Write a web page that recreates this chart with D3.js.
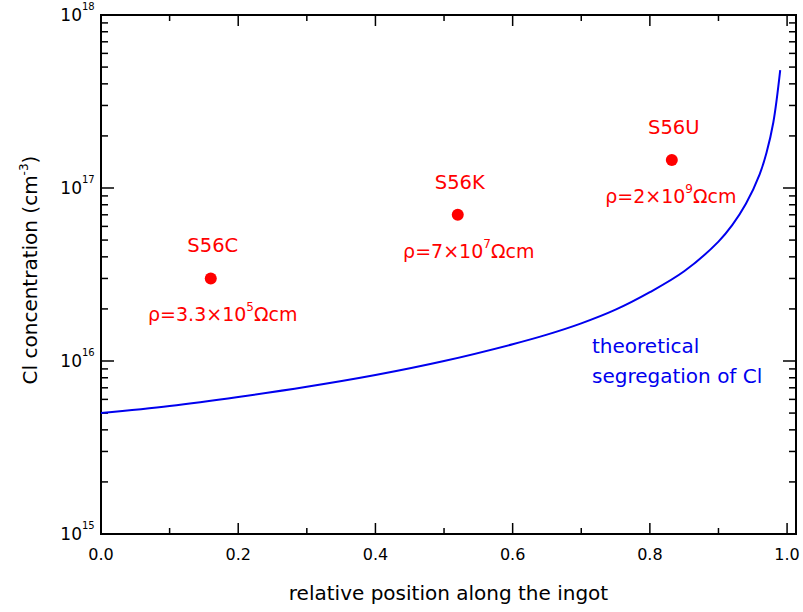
<!DOCTYPE html>
<html><head><meta charset="utf-8">
<script src="https://cdn.jsdelivr.net/npm/d3@7"></script>
<style>body{margin:0;background:#fff}</style>
</head><body>
<script>
// curve
const curveX = [0, 0.1, 0.2, 0.3, 0.4, 0.5, 0.6, 0.65, 0.7, 0.75, 0.8, 0.85, 0.9, 0.92, 0.94, 0.96, 0.97, 0.98, 0.99];
const curveY = [5.0e15, 5.5e15, 6.2e15, 7.1e15, 8.3e15, 1.0e16, 1.25e16, 1.42e16, 1.65e16, 1.98e16, 2.5e16, 3.3e16, 4.9e16, 6.1e16, 8.1e16, 1.2e17, 1.6e17, 2.4e17, 4.8e17];
const sampleNames = ["S56C", "S56K", "S56U"];
const sampleX = [0.16, 0.52, 0.832];
const sampleY = [3.0e16, 7.0e16, 1.45e17];
const rhoMant = ["3.3", "7", "2"];
const rhoExp = ["5", "7", "9"];
const xTicks = [0, 0.2, 0.4, 0.6, 0.8, 1.0];
const yTicks = [15, 16, 17, 18];

const W = 803, H = 612;
const m = {l: 101, r: 7, t: 15, b: 78};
const rhoShift = [12, 11, -1]; // horizontal label nudges in px
const svg = d3.select("body").append("svg").attr("width", W).attr("height", H)
  .style("font-family", "'DejaVu Sans',sans-serif");
const x = d3.scaleLinear().domain([0, 1.013]).range([m.l, W - m.r]);
const y = d3.scaleLog().domain([1e15, 1e18]).range([H - m.b, m.t]);

const x0 = m.l, x1 = W - m.r, y0 = H - m.b, y1 = m.t;
svg.append("rect").attr("x", x0).attr("y", y1).attr("width", x1 - x0).attr("height", y0 - y1)
  .attr("fill", "none").attr("stroke", "#000").attr("stroke-width", 2);

// ticks (inward)
const tk = svg.append("g").attr("stroke", "#000").attr("stroke-width", 1.5);
for (let i = 0; i <= 10; i++) {
  const v = i / 10, len = i % 2 === 0 ? 11 : 6, px = x(v);
  tk.append("line").attr("x1", px).attr("x2", px).attr("y1", y0).attr("y2", y0 - len);
  tk.append("line").attr("x1", px).attr("x2", px).attr("y1", y1).attr("y2", y1 + len);
}
for (let e = 15; e <= 17; e++) {
  for (let k = 1; k <= 9; k++) {
    const v = k * Math.pow(10, e), py = y(v), len = k === 1 ? 13 : 7;
    tk.append("line").attr("x1", x0).attr("x2", x0 + len).attr("y1", py).attr("y2", py);
    tk.append("line").attr("x1", x1).attr("x2", x1 - len).attr("y1", py).attr("y2", py);
  }
}

// x tick labels
svg.append("g").selectAll("text").data(xTicks).join("text")
  .attr("x", d => x(d)).attr("y", y0 + 26).attr("text-anchor", "middle")
  .attr("font-size", 16).text(d => d.toFixed(1));

// y tick labels
svg.append("g").selectAll("text").data(yTicks).join("text")
  .attr("x", 82).attr("y", d => y(Math.pow(10, d)) + 6).attr("text-anchor", "end")
  .attr("font-size", 17).text("10");
svg.append("g").selectAll("text").data(yTicks).join("text")
  .attr("x", 82).attr("y", d => y(Math.pow(10, d)) - 5).attr("font-size", 10).text(d => d);

// axis titles
svg.append("text").attr("x", (x0 + x1) / 2).attr("y", 600).attr("text-anchor", "middle")
  .attr("font-size", 20).text("relative position along the ingot");
const yt = svg.append("text").attr("transform", `translate(37,270) rotate(-90)`)
  .attr("text-anchor", "middle").attr("font-size", 20);
yt.append("tspan").text("Cl concentration (cm");
yt.append("tspan").attr("dy", -9).attr("font-size", 12).text("-3");
yt.append("tspan").attr("dy", 9).text(")");

// curve
const pts = curveX.map((d, i) => [d, curveY[i]]);
svg.append("path").datum(pts).attr("fill", "none").attr("stroke", "#0000ee").attr("stroke-width", 2)
  .attr("d", d3.line().x(d => x(d[0])).y(d => y(d[1])).curve(d3.curveCatmullRom.alpha(0.5)));

svg.append("text").attr("x", 592).attr("y", 353).attr("fill", "#0000ee").attr("font-size", 20).text("theoretical");
svg.append("text").attr("x", 592).attr("y", 383).attr("fill", "#0000ee").attr("font-size", 20).text("segregation of Cl");

// points
const red = "#ff0000";
sampleX.forEach((sx, i) => {
  const px = x(sx), py = y(sampleY[i]);
  svg.append("circle").attr("cx", px).attr("cy", py).attr("r", 6).attr("fill", red);
  svg.append("text").attr("x", px + 2).attr("y", py - 26).attr("text-anchor", "middle")
    .attr("fill", red).attr("font-size", 19.5).text(sampleNames[i]);
  const t = svg.append("text").attr("x", px + rhoShift[i]).attr("y", py + 43).attr("text-anchor", "middle")
    .attr("fill", red).attr("font-size", 19);
  t.append("tspan").text("ρ=" + rhoMant[i] + "×10");
  t.append("tspan").attr("dy", -10).attr("font-size", 12).text(rhoExp[i]);
  t.append("tspan").attr("dy", 10).text("Ωcm");
});
</script>
</body></html>
